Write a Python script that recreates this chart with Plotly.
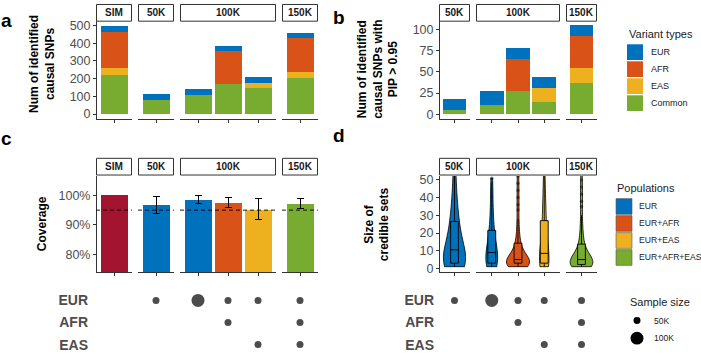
import plotly.graph_objects as go

W, H = 701, 353

# ---------------- data ----------------
variant_types = ["Common", "EAS", "AFR", "EUR"]          # stack order bottom -> top
legend_variant_order = ["EUR", "AFR", "EAS", "Common"]

a_facet = ["SIM", "50K", "100K", "100K", "100K", "150K"]
a_common = [222, 82, 109, 168, 150, 206]
a_eas = [38, 0, 0, 0, 28, 33]
a_afr = [203, 0, 0, 188, 0, 190]
a_eur = [35, 33, 34, 31, 33, 32]

b_facet = ["50K", "100K", "100K", "100K", "150K"]
b_common = [5, 11, 28, 14, 37]
b_eas = [0, 0, 0, 17, 17]
b_afr = [0, 0, 37, 0, 38]
b_eur = [13, 16, 13, 13, 13]

c_facet = ["SIM", "50K", "100K", "100K", "100K", "150K"]
c_group = ["SIM", "EUR", "EUR", "EUR+AFR", "EUR+EAS", "EUR+AFR+EAS"]
c_coverage = [100.0, 96.7, 98.3, 97.5, 95.2, 97.1]
c_lower = [None, 93.9, 97.1, 95.9, 91.8, 95.7]
c_upper = [None, 99.6, 99.8, 99.2, 98.9, 98.8]
c_sample_k = [None, 50, 100, 50, 50, 50]
coverage_target = 95

d_facet = ["50K", "100K", "100K", "100K", "150K"]
d_group = ["EUR", "EUR", "EUR+AFR", "EUR+EAS", "EUR+AFR+EAS"]
d_sample_k = [50, 100, 50, 50, 50]
cs_50k_eur = [1, 1, 1, 1, 1, 1, 2, 2, 2, 2, 3, 3, 3, 4, 4, 5, 5, 6, 7, 8, 9, 10,
              11, 12, 13, 14, 15, 17, 18, 20, 22, 24, 26, 27, 29, 32, 35, 38, 42, 47,
              53, 60, 70, 85]
cs_100k_eur = [1, 1, 1, 1, 2, 2, 2, 3, 3, 4, 5, 6, 7, 7, 8, 8, 9, 10, 11, 12,
               14, 16, 18, 20, 21, 23, 26, 30, 34, 38, 43, 49, 51]
cs_100k_eur_afr = [1, 1, 1, 1, 1, 1, 2, 2, 2, 2, 2, 2, 3, 3, 3, 3, 3, 3, 4, 4, 4, 4, 4,
                   5, 5, 5, 5, 5, 6, 6, 6, 7, 7, 8, 9, 10, 11, 12, 13, 14, 15, 17, 19,
                   22, 25, 28, 33, 36, 40, 44, 48, 52, 58]
cs_100k_eur_eas = [1, 1, 1, 1, 2, 2, 2, 3, 3, 4, 5, 6, 7, 7, 8, 9, 11, 13, 15, 18,
                   21, 24, 27, 29, 32, 36, 40, 45, 52, 60]
cs_150k_all = [1, 1, 1, 1, 1, 1, 1, 2, 2, 2, 2, 2, 2, 3, 3, 3, 3, 3, 3, 4, 4, 4, 4, 4,
               5, 5, 5, 6, 6, 7, 7, 8, 8, 9, 10, 11, 12, 13, 14, 16, 18, 20, 23, 26,
               30, 35, 38, 42, 46, 50, 55]
d_values = [cs_50k_eur, cs_100k_eur, cs_100k_eur_afr, cs_100k_eur_eas, cs_150k_all]

ancestries = ["EUR", "AFR", "EAS"]
population_legend = ["EUR", "EUR+AFR", "EUR+EAS", "EUR+AFR+EAS"]
sample_legend_k = [50, 100]

a_ticks = [0, 100, 200, 300, 400, 500]
b_ticks = [0, 25, 50, 75, 100]
c_ticks = [80, 90, 100]
c_ticklabels = ["80%", "90%", "100%"]
d_ticks = [0, 10, 20, 30, 40, 50]

# ---------------- style ----------------
COL = {"EUR": "#0072BD", "AFR": "#D95319", "EAS": "#EDB120", "Common": "#77AC30",
       "SIM": "#A2142F", "EUR+AFR": "#D95319", "EUR+EAS": "#EDB120",
       "EUR+AFR+EAS": "#77AC30"}
FONT = "Liberation Sans, Arial, Helvetica, sans-serif"
AX = "#333333"
TXT = "#4D4D4D"
DOT_PX = {50: 7, 100: 13}
VIOLIN_W = [0.86, 0.45, 0.88, 0.36, 0.88]

FAC_AC = [("SIM", 96, 132), ("50K", 138, 174), ("100K", 180, 276), ("150K", 282, 318)]
FAC_BD = [("50K", 439, 470), ("100K", 476, 560), ("150K", 566, 597)]
TOP = (18.5, 117.5)
BOT = (176, 274)
STRIP_TOP = (1.5, 18.5)
STRIP_BOT = (158, 175)


def fx(px):
    return px / W


def fy(py):
    return 1 - py / H


def positions(facets):
    seen, out = {}, []
    for f in facets:
        seen[f] = seen.get(f, 0) + 1
        out.append(seen[f])
    return out


def counts(facets):
    c = {}
    for f in facets:
        c[f] = c.get(f, 0) + 1
    return c


layout = dict(width=W, height=H, margin=dict(l=0, r=0, t=0, b=0, pad=0),
              paper_bgcolor="white", plot_bgcolor="white", showlegend=False,
              barmode="stack", violinmode="overlay", boxmode="overlay",
              font=dict(family=FONT, color="#1A1A1A"))
shapes, annotations = [], []
axn = {"x": 0, "y": 0}


def add_axis(kind, props):
    axn[kind] += 1
    n = axn[kind]
    layout[f"{kind}axis{'' if n == 1 else n}"] = props
    return f"{kind}{'' if n == 1 else n}"


def panel(facets, nper, ypx, yrange, tickvals, ticktext=None):
    left = facets[0][1]
    yprops = dict(domain=[fy(ypx[1]), fy(ypx[0])], range=yrange, anchor="free",
                  position=fx(left), showline=True, linecolor=AX, linewidth=1,
                  ticks="outside", ticklen=3, tickcolor=AX, tickvals=tickvals,
                  tickfont=dict(size=12.5, color=TXT), showgrid=False, zeroline=False)
    if ticktext is not None:
        yprops["ticktext"] = ticktext
    yref = add_axis("y", yprops)
    xrefs = {}
    for name, l, r in facets:
        n = nper[name]
        xrefs[name] = add_axis("x", dict(domain=[fx(l), fx(r)], range=[0.4, n + 0.6],
                                         anchor=yref, showline=True, linecolor=AX, linewidth=1,
                                         ticks="outside", ticklen=3, tickcolor=AX,
                                         tickvals=list(range(1, n + 1)), showticklabels=False,
                                         showgrid=False, zeroline=False))
    return yref, xrefs


def strips(facets, spx):
    for name, l, r in facets:
        shapes.append(dict(type="rect", xref="paper", yref="paper", x0=fx(l + 0.5), x1=fx(r - 0.5),
                           y0=fy(spx[1]), y1=fy(spx[0]), line=dict(color=AX, width=1),
                           fillcolor="white"))
        annotations.append(dict(x=fx((l + r) / 2), y=fy((spx[0] + spx[1]) / 2), xref="paper",
                                yref="paper", text=f"<b>{name}</b>", showarrow=False,
                                font=dict(size=10, color="#1A1A1A"), xanchor="center",
                                yanchor="middle"))


def dotrows(left, standoff):
    return add_axis("y", dict(domain=[fy(352.7), fy(291.3)], range=[0.77, 3.5], anchor="free",
                              position=fx(left), showline=False, ticks="", showgrid=False,
                              zeroline=False, tickvals=[3, 2, 1], ticktext=ancestries,
                              ticklabelstandoff=standoff,
                              tickfont=dict(size=14, color=TXT, weight="bold")))


fig = go.Figure()
row_of = {"EUR": 3, "AFR": 2, "EAS": 1}

# ---------------- panel a ----------------
ya, xa = panel(FAC_AC, counts(a_facet), TOP, [-25, 525], a_ticks)
pa = positions(a_facet)
for vt, vals in zip(variant_types, [a_common, a_eas, a_afr, a_eur]):
    for fac in xa:
        idx = [i for i, f in enumerate(a_facet) if f == fac]
        fig.add_trace(go.Bar(x=[pa[i] for i in idx], y=[vals[i] for i in idx], width=0.9,
                             marker=dict(color=COL[vt], line=dict(width=0)),
                             xaxis=xa[fac], yaxis=ya, name=vt))
strips(FAC_AC, STRIP_TOP)

# ---------------- panel b ----------------
yb, xb = panel(FAC_BD, counts(b_facet), TOP, [-4.85, 109.5], b_ticks)
pb = positions(b_facet)
for vt, vals in zip(variant_types, [b_common, b_eas, b_afr, b_eur]):
    for fac in xb:
        idx = [i for i, f in enumerate(b_facet) if f == fac]
        fig.add_trace(go.Bar(x=[pb[i] for i in idx], y=[vals[i] for i in idx], width=0.9,
                             marker=dict(color=COL[vt], line=dict(width=0)),
                             xaxis=xb[fac], yaxis=yb, name=vt))
strips(FAC_BD, STRIP_TOP)

# ---------------- panel c ----------------
yc, xc = panel(FAC_AC, counts(c_facet), BOT, [73.9, 106.57], c_ticks, c_ticklabels)
pc = positions(c_facet)
for fac in xc:
    idx = [i for i, f in enumerate(c_facet) if f == fac]
    has_err = all(c_lower[i] is not None for i in idx)
    err = None
    if has_err:
        err = dict(type="data", symmetric=False,
                   array=[c_upper[i] - c_coverage[i] for i in idx],
                   arrayminus=[c_coverage[i] - c_lower[i] for i in idx],
                   color="black", thickness=1, width=3.5)
    fig.add_trace(go.Bar(x=[pc[i] for i in idx], y=[c_coverage[i] for i in idx], width=0.9,
                         marker=dict(color=[COL[c_group[i]] for i in idx], line=dict(width=0)),
                         error_y=err, xaxis=xc[fac], yaxis=yc))
    shapes.append(dict(type="line", xref=f"{xc[fac]} domain", yref=yc, x0=0, x1=1,
                       y0=coverage_target, y1=coverage_target, layer="above",
                       line=dict(color="black", width=0.9, dash="4px,3px")))
strips(FAC_AC, STRIP_BOT)

ydc = dotrows(96, 8)
for fac in xc:
    xs, ys, ss = [], [], []
    for i, f in enumerate(c_facet):
        if f != fac or c_sample_k[i] is None:
            continue
        for anc in c_group[i].split("+"):
            xs.append(pc[i])
            ys.append(row_of[anc])
            ss.append(DOT_PX[c_sample_k[i]])
    if xs:
        fig.add_trace(go.Scatter(x=xs, y=ys, mode="markers", xaxis=xc[fac], yaxis=ydc,
                                 marker=dict(color="black", size=ss, line=dict(width=0))))

# ---------------- panel d ----------------
yd, xd = panel(FAC_BD, counts(d_facet), BOT, [-2.2, 52.2], d_ticks)
pdp = positions(d_facet)
for i, vals in enumerate(d_values):
    fac = d_facet[i]
    col = COL[d_group[i]]
    fig.add_trace(go.Violin(x=[pdp[i]] * len(vals), y=vals, xaxis=xd[fac], yaxis=yd,
                            width=VIOLIN_W[i], scalemode="width", spanmode="hard",
                            fillcolor=col, line=dict(color="black", width=0.8), opacity=1,
                            points=False, box=dict(visible=False),
                            meanline=dict(visible=False), name=d_group[i]))
    fig.add_trace(go.Box(x=[pdp[i]] * len(vals), y=vals, xaxis=xd[fac], yaxis=yd, width=0.3,
                         fillcolor=col, line=dict(color="black", width=0.9), whiskerwidth=0,
                         boxpoints="outliers", jitter=0, pointpos=0,
                         marker=dict(color="rgba(0,0,0,0.45)", size=3.5),
                         name=d_group[i]))
strips(FAC_BD, STRIP_BOT)

ydd = dotrows(439, 5)
for fac in xd:
    xs, ys, ss = [], [], []
    for i, f in enumerate(d_facet):
        if f != fac:
            continue
        for anc in d_group[i].split("+"):
            xs.append(pdp[i])
            ys.append(row_of[anc])
            ss.append(DOT_PX[d_sample_k[i]])
    fig.add_trace(go.Scatter(x=xs, y=ys, mode="markers", xaxis=xd[fac], yaxis=ydd,
                             marker=dict(color="black", size=ss, line=dict(width=0))))


# ---------------- titles / letters ----------------
def ann(xp, yp, text, size, **kw):
    d = dict(x=fx(xp), y=fy(yp), xref="paper", yref="paper", text=text, showarrow=False,
             font=dict(size=size, color=kw.pop("color", "black")),
             xanchor=kw.pop("xanchor", "center"), yanchor=kw.pop("yanchor", "middle"))
    d.update(kw)
    annotations.append(d)


ann(42, 62, "<b>Num of identified<br>causal SNPs</b>", 12, textangle=-90)
ann(378, 67, "<b>Num of identified<br>causal SNPs with<br>PIP &gt; 0.95</b>", 12, textangle=-90)
ann(42, 225, "<b>Coverage</b>", 12, textangle=-90)
ann(377, 225, "<b>Size of<br>credible sets</b>", 12, textangle=-90)

ann(6, 18, "<b>a</b>", 19)
ann(339, 15, "<b>b</b>", 19)
ann(6, 138, "<b>c</b>", 19)
ann(339, 135, "<b>d</b>", 19)

# ---------------- legends ----------------
ann(627, 32, "Variant types", 11, xanchor="left", color="#1A1A1A")
for k, vt in enumerate(legend_variant_order):
    top = 42 + k * 17.3
    shapes.append(dict(type="rect", xref="paper", yref="paper", x0=fx(627), x1=fx(643),
                       y0=fy(top + 16), y1=fy(top), fillcolor=COL[vt], line=dict(width=0)))
    ann(649, top + 8, vt, 9, xanchor="left", color="#1A1A1A")

ann(615, 188, "Populations", 11, xanchor="left", color="#1A1A1A")
for k, pop in enumerate(population_legend):
    top = 199 + k * 17.3
    shapes.append(dict(type="rect", xref="paper", yref="paper", x0=fx(616), x1=fx(632),
                       y0=fy(top + 16), y1=fy(top), fillcolor=COL[pop],
                       line=dict(color="#555555", width=0.6)))
    ann(637, top + 8, pop, 8.6, xanchor="left", color="#1A1A1A")

ann(628, 304, "Sample size", 11, xanchor="left", color="#1A1A1A")
for k, s in enumerate(sample_legend_k):
    cy = 323 + k * 18
    r = DOT_PX[s] / 2
    shapes.append(dict(type="circle", xref="paper", yref="paper", x0=fx(637 - r), x1=fx(637 + r),
                       y0=fy(cy + r), y1=fy(cy - r), fillcolor="black", line=dict(width=0)))
    ann(652, cy, f"{s}K", 8.5, xanchor="left", color="#1A1A1A")

layout["shapes"] = shapes
layout["annotations"] = annotations
fig.update_layout(**layout)
fig.write_html("out.html", config={"displayModeBar": False},
               post_script="document.body.style.margin='0';document.body.style.padding='0';")
